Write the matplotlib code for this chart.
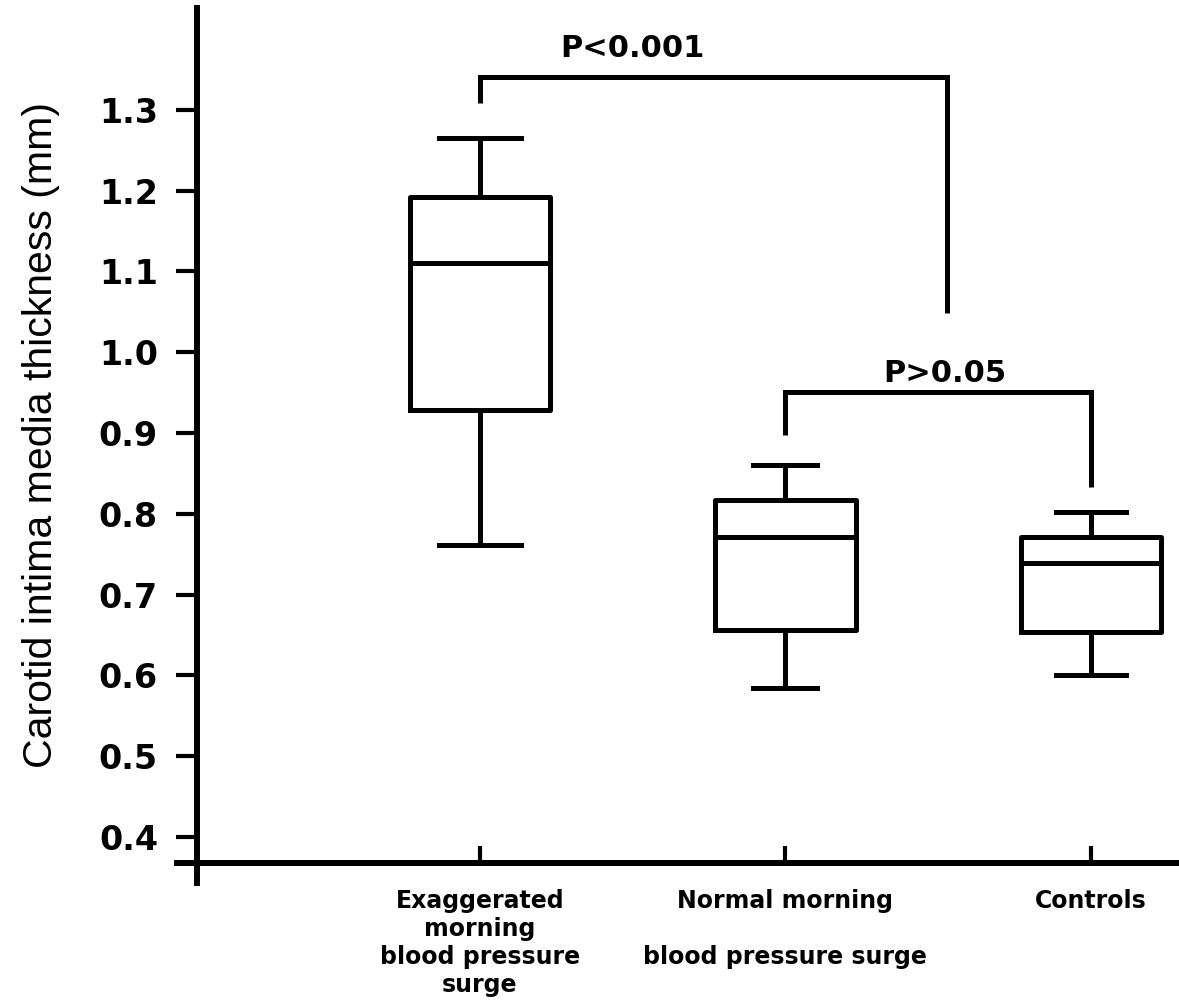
import matplotlib
matplotlib.use("Agg")
import matplotlib.pyplot as plt

# group names / tick labels
groups = ["Exaggerated\nmorning\nblood pressure\nsurge",
          "Normal morning\n\nblood pressure surge",
          "Controls"]

# box summaries (mm)
whislo = [0.761, 0.584, 0.600]
q1 = [0.928, 0.656, 0.654]
med = [1.110, 0.771, 0.739]
q3 = [1.192, 0.817, 0.771]
whishi = [1.265, 0.860, 0.802]

yticks = [0.4, 0.5, 0.6, 0.7, 0.8, 0.9, 1.0, 1.1, 1.2, 1.3]

# significance brackets: (x left, x right, top, left end, right end, label, label x, label y)
brackets = [
    (0, 1.529, 1.340, 1.308, 1.049, "P<0.001", 0.50, 1.365),
    (1, 2, 0.951, 0.897, 0.833, "P>0.05", 1.522, 0.963),
]

LW = 3.6

fig = plt.figure(figsize=(11.79, 10.01), dpi=100)
ax = fig.add_axes([177 / 1179, 118 / 1001, 1002 / 1179, 875 / 1001])

stats = []
for i in range(len(groups)):
    stats.append(dict(whislo=whislo[i], q1=q1[i], med=med[i], q3=q3[i],
                      whishi=whishi[i], fliers=[]))

ax.bxp(stats, positions=[0, 1, 2], widths=0.46, capwidths=[0.27, 0.21, 0.23],
       showfliers=False,
       boxprops=dict(color="black", linewidth=LW),
       medianprops=dict(color="black", linewidth=LW),
       whiskerprops=dict(color="black", linewidth=LW),
       capprops=dict(color="black", linewidth=LW))

for xl, xr, top, yl, yr, txt, tx, ty in brackets:
    ax.plot([xl, xl, xr, xr], [yl, top, top, yr], color="black",
            linewidth=LW, solid_joinstyle="miter", solid_capstyle="butt")
    ax.text(tx, ty, txt, ha="center", va="baseline", fontsize=22,
            fontweight="bold", family="DejaVu Sans")

ax.set_xlim(-0.991, 2.288)
ax.set_ylim(0.343, 1.426)

for s in ["top", "right"]:
    ax.spines[s].set_visible(False)
ax.spines["left"].set_position(("data", -0.926))
ax.spines["bottom"].set_position(("data", 0.368))
ax.spines["left"].set_linewidth(4.3)
ax.spines["bottom"].set_linewidth(4.3)

ax.set_yticks(yticks)
ax.set_yticklabels(["%.1f" % v for v in yticks])
ax.tick_params(axis="y", direction="out", length=15, width=3, pad=13,
               labelsize=24)
for lab in ax.get_yticklabels():
    lab.set_fontweight("bold")
    lab.set_family("DejaVu Sans")

ax.set_xticks([0, 1, 2])
ax.set_xticklabels(groups, fontsize=17, fontweight="bold",
                   family="DejaVu Sans", linespacing=1.2)
ax.tick_params(axis="x", direction="in", length=12, width=3, pad=19)

ax.set_ylabel("Carotid intima media thickness (mm)", fontsize=29.5,
              family="Liberation Sans")
ax.yaxis.set_label_coords(-0.117, 0.512)

fig.savefig("out.png", dpi=100)
